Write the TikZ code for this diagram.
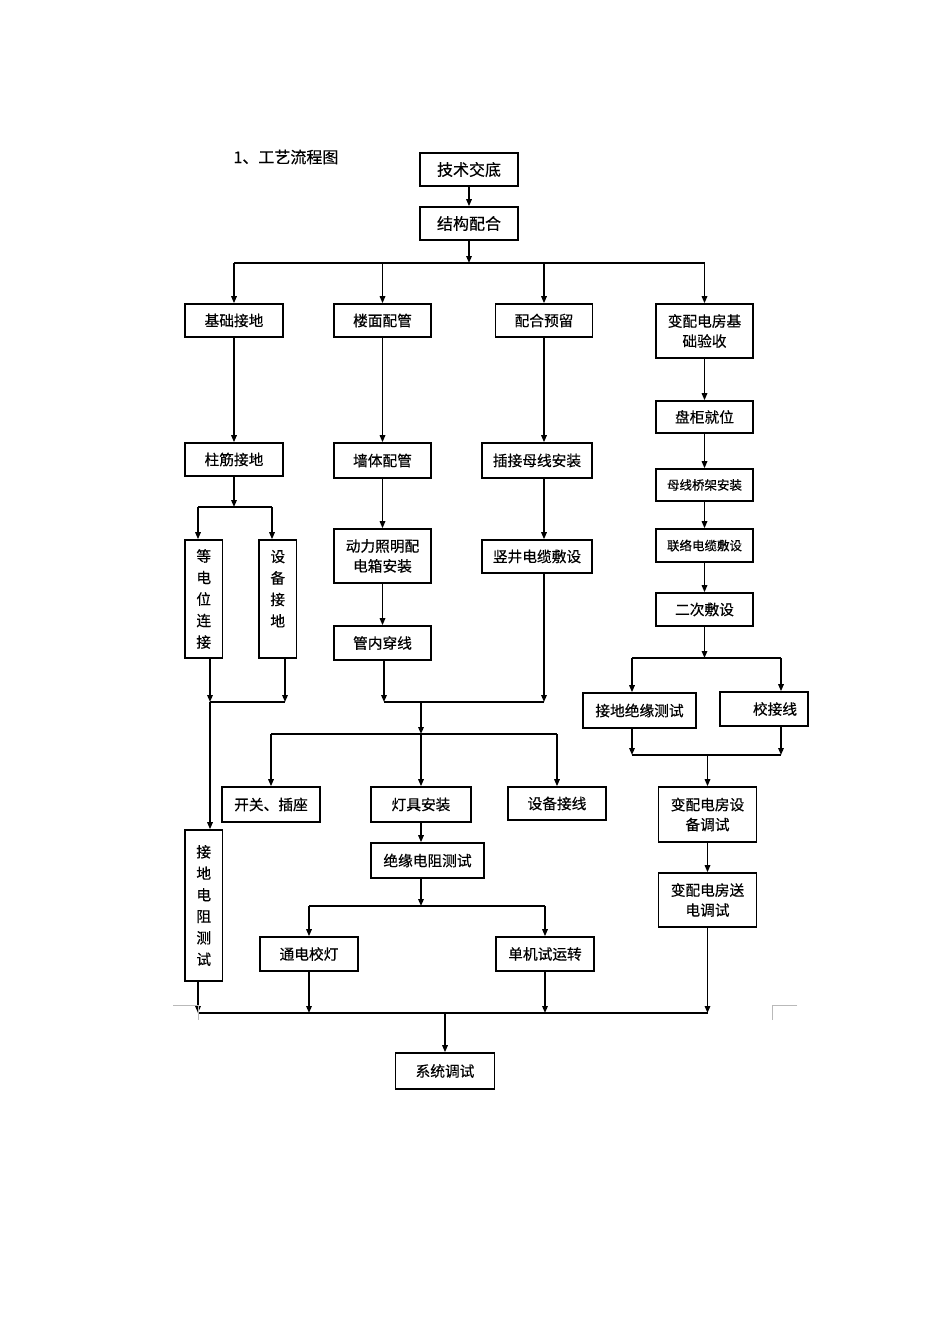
\documentclass[tikz,border=0pt]{standalone}
\usepackage{fontspec}
\newfontfamily\cjk[FakeBold=0.4]{Noto Sans CJK SC}
\usetikzlibrary{arrows.meta}
\begin{document}
\begin{tikzpicture}[x=1pt,y=-1pt,
  box/.style={draw, line width=1.6pt, inner sep=0pt, align=center, font=\cjk\fontsize{14.7}{20}\selectfont},
  bbox/.style={box, font=\cjk\fontsize{16}{20}\selectfont},
  sbox/.style={box, font=\cjk\fontsize{12.5}{18}\selectfont},
  vbox/.style={box, font=\cjk\fontsize{14.7}{21.5}\selectfont},
  sz/.style 2 args={minimum width=#1pt, minimum height=#2pt},
  ln/.style={line width=1.5pt},
  arr/.style={ln, -{Triangle[length=7pt,width=5.5pt]}},
  cornermark/.style={gray!55, line width=0.8pt}
]
\fill[white] (0,0) rectangle (950,1344);
\useasboundingbox (0,0) rectangle (950,1344);

\node[anchor=west, font=\cjk\fontsize{16}{18}\selectfont] (title) at (230,157) {1、工艺流程图};

% boxes
\node[bbox, sz={98}{33}] (jsjd) at (469,169.5) {技术交底};
\node[bbox, sz={98}{33}] (jgph) at (469,223.5) {结构配合};
\node[box, sz={98}{33}] (jcjd) at (234,320.5) {基础接地};
\node[box, sz={97}{33}] (lmpg) at (382.5,320.5) {楼面配管};
\node[box, sz={97}{33}] (phyl) at (544,320.5) {配合预留};
\node[box, sz={97}{54}] (bdfj) at (704.5,331) {变配电房基\\础验收};
\node[box, sz={97}{32}] (pgjw) at (704.5,417) {盘柜就位};
\node[box, sz={98}{33}] (zjjd) at (234,459.5) {柱筋接地};
\node[box, sz={97}{35}] (qtpg) at (382.5,460.5) {墙体配管};
\node[box, sz={110}{35}] (cjmx) at (537,460.5) {插接母线安装};
\node[sbox, sz={97}{32}] (mxqj) at (704.5,485) {母线桥架安装};
\node[vbox, sz={37.5}{118}] (ddw) at (203.75,599) {等\\电\\位\\连\\接};
\node[vbox, sz={37.5}{118}] (sbjd) at (277.75,599) {设\\备\\接\\地\\\mbox{}};
\node[box, sz={97}{54}] (dlzm) at (382.5,556) {动力照明配\\电箱安装};
\node[box, sz={110}{33}] (sjdl) at (537,556.5) {竖井电缆敷设};
\node[sbox, sz={97}{33}] (lldl) at (704.5,545.5) {联络电缆敷设};
\node[box, sz={97}{33}] (ecfs) at (704.5,609.5) {二次敷设};
\node[box, sz={97}{34}] (gncx) at (382.5,643) {管内穿线};
\node[box, sz={113}{35}] (jdjy) at (639.5,710.5) {接地绝缘测试};
\node[box, sz={88}{34}] (jjx) at (764,709) {\hspace*{22pt}校接线};
\node[box, sz={98}{35}] (kgcz) at (271,804.5) {开关、插座};
\node[box, sz={100}{35}] (djaz) at (421,804.5) {灯具安装};
\node[box, sz={98}{33}] (sbjx) at (557,803.5) {设备接线};
\node[box, sz={98}{55}] (bdsb) at (707.5,814.5) {变配电房设\\备调试};
\node[vbox, sz={37.5}{151}] (jdzc) at (203.75,905.5) {接\\地\\电\\阻\\测\\试};
\node[box, sz={113}{35}] (jydz) at (427.5,860.5) {绝缘电阻测试};
\node[box, sz={98}{54}] (bdsd) at (707.5,900) {变配电房送\\电调试};
\node[box, sz={98}{34}] (tdxd) at (309,954) {通电校灯};
\node[box, sz={98}{34}] (djsy) at (545,954) {单机试运转};
\node[box, sz={99}{36}] (xtts) at (445,1071) {系统调试};

% top
\draw[arr] (jsjd) -- (jgph);
\coordinate (j1) at (469,263);
\draw[arr] (jgph) -- (j1);
\draw[ln] (jcjd |- j1) -- (bdfj |- j1);
\foreach \n in {jcjd,lmpg,phyl,bdfj} \draw[arr] (\n |- j1) -- (\n);

% columns
\draw[arr] (jcjd) -- (zjjd);
\draw[arr] (lmpg) -- (qtpg);
\draw[arr] (qtpg) -- (dlzm);
\draw[arr] (dlzm) -- (gncx);
\draw[arr] (phyl) -- (phyl.south |- cjmx.north);
\draw[arr] (phyl.south |- cjmx.south) -- (phyl.south |- sjdl.north);
\draw[arr] (bdfj) -- (pgjw);
\draw[arr] (pgjw) -- (mxqj);
\draw[arr] (mxqj) -- (lldl);
\draw[arr] (lldl) -- (ecfs);

% left split
\coordinate (j2) at (234,507);
\coordinate (j2l) at (198,507);
\coordinate (j2r) at (272,507);
\draw[arr] (zjjd) -- (j2);
\draw[ln] (j2l) -- (j2r);
\draw[arr] (j2l) -- (j2l |- ddw.north);
\draw[arr] (j2r) -- (j2r |- sbjd.north);

% left merge
\coordinate (m1l) at (210,702);
\coordinate (m1r) at (285,702);
\draw[arr] (m1l |- ddw.south) -- (m1l);
\draw[arr] (m1r |- sbjd.south) -- (m1r);
\draw[ln] (m1l) -- (m1r);
\draw[arr] (m1l) -- (m1l |- jdzc.north);

% middle merge
\coordinate (m2l) at (384,702);
\coordinate (m2r) at (544,702);
\coordinate (m2c) at (421,702);
\draw[arr] (m2l |- gncx.south) -- (m2l);
\draw[arr] (m2r |- sjdl.south) -- (m2r);
\draw[ln] (m2l) -- (m2r);
\coordinate (j3) at (421,734);
\draw[arr] (m2c) -- (j3);
\draw[ln] (kgcz |- j3) -- (sbjx |- j3);
\draw[arr] (kgcz |- j3) -- (kgcz);
\draw[arr] (j3) -- (djaz);
\draw[arr] (sbjx |- j3) -- (sbjx);
\draw[arr] (djaz) -- (djaz.south |- jydz.north);
\coordinate (j4) at (421,906);
\draw[arr] (djaz.south |- jydz.south) -- (j4);
\draw[ln] (tdxd |- j4) -- (djsy |- j4);
\draw[arr] (tdxd |- j4) -- (tdxd);
\draw[arr] (djsy |- j4) -- (djsy);

% right
\coordinate (j5) at (704.5,658);
\coordinate (j5l) at (632,658);
\coordinate (j5r) at (781,658);
\draw[arr] (ecfs) -- (j5);
\draw[ln] (j5l) -- (j5r);
\draw[arr] (j5l) -- (j5l |- jdjy.north);
\draw[arr] (j5r) -- (j5r |- jjx.north);
\coordinate (m3l) at (632,755);
\coordinate (m3r) at (781,755);
\coordinate (m3c) at (707.5,755);
\draw[arr] (m3l |- jdjy.south) -- (m3l);
\draw[arr] (m3r |- jjx.south) -- (m3r);
\draw[ln] (m3l) -- (m3r);
\draw[arr] (m3c) -- (bdsb);
\draw[arr] (bdsb) -- (bdsd);

% bottom
\coordinate (b1) at (198,1013);
\coordinate (b4) at (707.5,1013);
\coordinate (b0) at (445,1013);
\draw[ln] (b1) -- (b4);
\draw[arr] (b1 |- jdzc.south) -- (b1);
\draw[arr] (tdxd) -- (tdxd |- b1);
\draw[arr] (djsy) -- (djsy |- b1);
\draw[arr] (bdsd) -- (b4);
\draw[arr] (b0) -- (xtts);

% page corner marks
\draw[cornermark] (173,1005) -- (198,1005) -- (198,1020);
\draw[cornermark] (797,1005) -- (772,1005) -- (772,1020);
\end{tikzpicture}
\end{document}
